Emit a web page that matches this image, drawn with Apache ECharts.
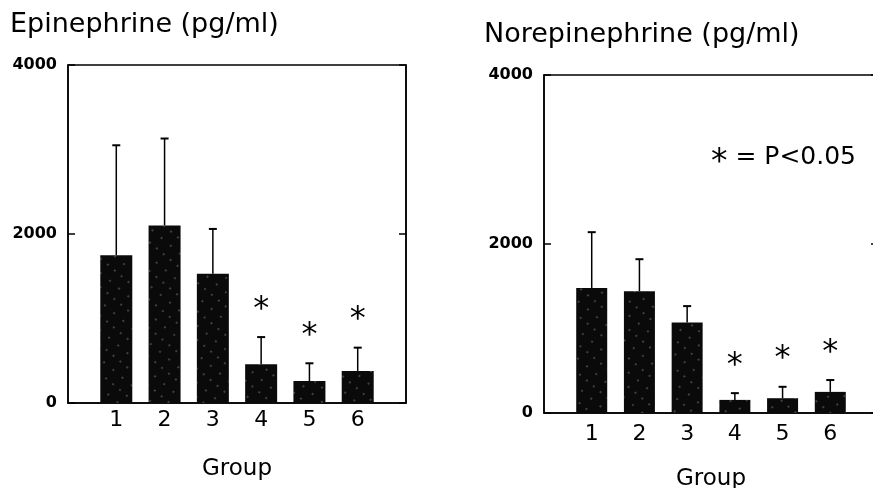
<!DOCTYPE html>
<html>
<head>
<meta charset="utf-8">
<script src="https://cdn.jsdelivr.net/npm/echarts@6/dist/echarts.min.js"></script>
<style>
html,body{margin:0;padding:0;background:#fff;}
#chart{width:873px;height:488px;}
</style>
</head>
<body>
<div id="chart"></div>
<script>
// ---- data ----
var groups = ['1', '2', '3', '4', '5', '6'];
var epiMean = [1750, 2100, 1530, 460, 260, 380];
var epiSD = [1300, 1030, 530, 320, 210, 275];
var norMean = [1480, 1440, 1070, 155, 175, 250];
var norSD = [660, 380, 195, 80, 135, 140];
var epiSig = [0, 0, 0, 1, 1, 1];
var norSig = [0, 0, 0, 1, 1, 1];
var yTicks = [0, 2000, 4000];
var titles = ['Epinephrine (pg/ml)', 'Norepinephrine (pg/ml)'];
var xName = 'Group';
var note = '* = P<0.05';

var FONT = 'DejaVu Sans';
var STAR_GAP = 400;

function barData(mean) { return mean.map(function (v, i) { return [i + 1, v]; }); }
function errData(mean, sd) { return mean.map(function (v, i) { return [i + 1, v, v + sd[i]]; }); }
function starData(mean, sd, sig) {
  var out = [];
  sig.forEach(function (s, i) { if (s) out.push([i + 1, mean[i] + sd[i] + STAR_GAP]); });
  return out;
}

function errRender(params, api) {
  var x = api.value(0), m = api.value(1), u = api.value(2);
  var p0 = api.coord([x, m]), p1 = api.coord([x, u]);
  var cap = 4;
  return {
    type: 'group',
    children: [
      { type: 'line', shape: { x1: p0[0], y1: p0[1], x2: p1[0], y2: p1[1] }, style: { stroke: '#000', lineWidth: 1.5 } },
      { type: 'line', shape: { x1: p1[0] - cap, y1: p1[1], x2: p1[0] + cap, y2: p1[1] }, style: { stroke: '#000', lineWidth: 2 } }
    ]
  };
}
function starRender(params, api) {
  var p = api.coord([api.value(0), api.value(1)]);
  return { type: 'text', style: { text: '*', x: p[0], y: p[1] + 6, fontSize: 32, fontFamily: FONT, fill: '#000', align: 'center', verticalAlign: 'middle' } };
}

function xAxis(gi, margin, gap) {
  return {
    gridIndex: gi, type: 'value', min: 0, max: 7, interval: 1,
    axisLine: { show: true, lineStyle: { color: '#000', width: 1.5 } },
    axisTick: { show: false }, splitLine: { show: false },
    axisLabel: {
      margin: margin, fontSize: 22, color: '#000', fontFamily: FONT,
      formatter: function (v) { return (v >= 1 && v <= groups.length) ? groups[v - 1] : ''; }
    },
    name: xName, nameLocation: 'middle', nameGap: gap,
    nameTextStyle: { fontSize: 23, color: '#000', fontFamily: FONT }
  };
}
function yAxisL(gi) {
  return {
    gridIndex: gi, type: 'value', min: yTicks[0], max: yTicks[yTicks.length - 1], interval: yTicks[1] - yTicks[0],
    axisLine: { show: true, lineStyle: { color: '#000', width: 1.5 } },
    axisTick: { show: true, inside: true, length: 7, lineStyle: { color: '#000', width: 1.5 } },
    splitLine: { show: false },
    axisLabel: { margin: 11, fontSize: 16, fontWeight: 'bold', color: '#000', fontFamily: FONT,
      formatter: function (v) { return String(v); } }
  };
}
function yAxisR(gi) {
  return {
    gridIndex: gi, type: 'value', position: 'right', min: yTicks[0], max: yTicks[yTicks.length - 1], interval: yTicks[1] - yTicks[0],
    axisLine: { show: true, lineStyle: { color: '#000', width: 1.5 } },
    axisTick: { show: true, inside: true, length: 7, lineStyle: { color: '#000', width: 1.5 } },
    splitLine: { show: false }, axisLabel: { show: false }
  };
}

var speckle = {
  symbol: 'rect', symbolSize: 0.5, color: 'rgba(255,255,255,0.85)',
  dashArrayX: [[2, 10], [2, 7]], dashArrayY: [2, 9], rotation: 0.7
};

var chart = echarts.init(document.getElementById('chart'), null, { renderer: 'canvas' });
chart.setOption({
  backgroundColor: '#fff',
  animation: false,
  title: [
    { text: titles[0], left: 5, top: 6, textStyle: { fontSize: 27, fontWeight: 'normal', color: '#000', fontFamily: FONT } },
    { text: titles[1], left: 479, top: 16, textStyle: { fontSize: 27, fontWeight: 'normal', color: '#000', fontFamily: FONT } }
  ],
  grid: [
    { left: 68, top: 65, width: 338, height: 338, show: true, borderColor: '#000', borderWidth: 1.5, backgroundColor: 'transparent', outerBoundsMode: 'none', containLabel: false },
    { left: 544, top: 75, width: 334, height: 338, show: true, borderColor: '#000', borderWidth: 1.5, backgroundColor: 'transparent', outerBoundsMode: 'none', containLabel: false }
  ],
  xAxis: [xAxis(0, 6, 55), xAxis(1, 10, 55)],
  yAxis: [yAxisL(0), yAxisR(0), yAxisL(1), yAxisR(1)],
  graphic: [
    { type: 'text', left: 711, top: 145, style: {
      text: '{s|*} = P<0.05', fontSize: 25, fontFamily: FONT, fill: '#000',
      rich: { s: { fontSize: 33, fontFamily: FONT, fill: '#000', padding: [12, 0, 0, 0] } } } }
  ],
  series: [
    { type: 'bar', xAxisIndex: 0, yAxisIndex: 0, data: barData(epiMean), barWidth: 32, itemStyle: { color: '#0a0a0a', decal: speckle } },
    { type: 'custom', xAxisIndex: 0, yAxisIndex: 0, data: errData(epiMean, epiSD), renderItem: errRender, encode: { x: 0, y: [1, 2] }, z: 3 },
    { type: 'custom', xAxisIndex: 0, yAxisIndex: 0, data: starData(epiMean, epiSD, epiSig), renderItem: starRender, encode: { x: 0, y: 1 }, z: 3 },
    { type: 'bar', xAxisIndex: 1, yAxisIndex: 2, data: barData(norMean), barWidth: 31, itemStyle: { color: '#0a0a0a', decal: speckle } },
    { type: 'custom', xAxisIndex: 1, yAxisIndex: 2, data: errData(norMean, norSD), renderItem: errRender, encode: { x: 0, y: [1, 2] }, z: 3 },
    { type: 'custom', xAxisIndex: 1, yAxisIndex: 2, data: starData(norMean, norSD, norSig), renderItem: starRender, encode: { x: 0, y: 1 }, z: 3 }
  ]
});
</script>
</body>
</html>
